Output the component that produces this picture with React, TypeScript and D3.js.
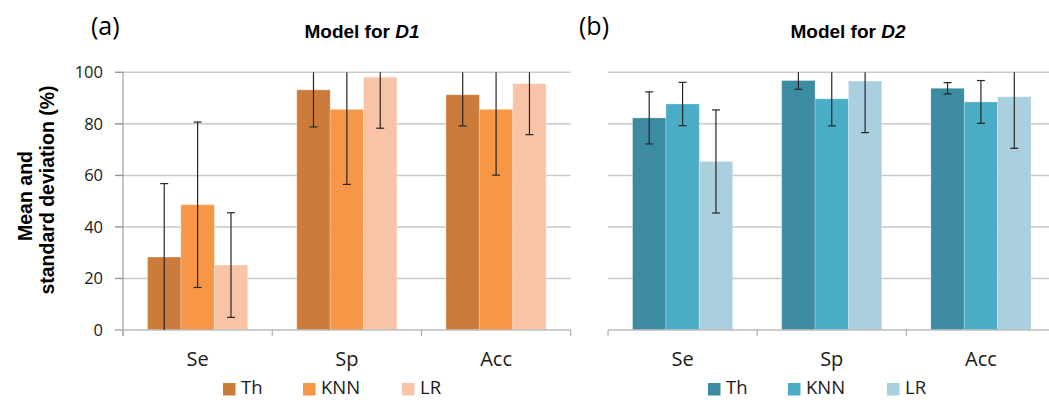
import React from "react";
import * as d3 from "d3";

const categories = ["Se", "Sp", "Acc"];
const seriesNames = ["Th", "KNN", "LR"];
const yTicks = [0, 20, 40, 60, 80, 100];

// Model for D1
const d1Th = [28.3, 93.2, 91.3];
const d1Knn = [48.6, 85.6, 85.6];
const d1Lr = [25.2, 98.1, 95.6];
const d1ThSd = [28.5, 14.4, 12.1];
const d1KnnSd = [32.1, 29.1, 25.5];
const d1LrSd = [20.3, 19.8, 19.8];

// Model for D2
const d2Th = [82.3, 96.8, 93.8];
const d2Knn = [87.7, 89.7, 88.5];
const d2Lr = [65.4, 96.6, 90.5];
const d2ThSd = [10.1, 3.4, 2.2];
const d2KnnSd = [8.4, 10.5, 8.3];
const d2LrSd = [20.0, 20.0, 20.0];

const orange = ["#CB7B3A", "#F69646", "#F9C3A8"];
const teal = ["#3D8BA1", "#4BACC6", "#AACFDE"];

const W = 1049;
const H = 400;
const yTop = 72.3;
const yBottom = 330;

const sansFont = "'Open Sans', sans-serif";
const boldFont = "'Liberation Sans', Arial, sans-serif";

type PanelProps = {
  x0: number;
  x1: number;
  means: number[][];
  sds: number[][];
  colors: string[];
  title: string;
  titleX: number;
  letter: string;
  letterX: number;
  showYAxis: boolean;
  gridStart: number;
  gridEnd: number;
};

function Panel(p: PanelProps) {
  const y = d3.scaleLinear().domain([0, 100]).range([yBottom, yTop]);
  const x = d3.scaleBand<string>().domain(categories).range([p.x0, p.x1]).padding(0);
  const bw = x.bandwidth();
  const groupW = bw * 0.671;
  const inner = d3
    .scaleBand<string>()
    .domain(seriesNames)
    .range([(bw - groupW) / 2, (bw + groupW) / 2])
    .padding(0);
  const legendOffsets = [100, 180, 279];
  return (
    <g>
      <text x={p.letterX} y={35} fontFamily={sansFont} fontSize={25} fill="#000">
        {p.letter}
      </text>
      <text x={p.titleX} y={38} textAnchor="middle" fontFamily={boldFont} fontWeight="bold" fontSize={19} fill="#000">
        {"Model for "}
        <tspan fontStyle="italic">{p.title}</tspan>
      </text>
      {yTicks.map((t) =>
        t === 0 ? null : (
          <line key={"g" + t} x1={p.gridStart} x2={p.gridEnd} y1={y(t)} y2={y(t)} stroke="#C9C9C9" strokeWidth={1.5} />
        )
      )}
      {p.showYAxis &&
        yTicks.map((t) => (
          <text key={"yt" + t} x={103} y={y(t)} dy="0.35em" textAnchor="end" fontFamily={sansFont} fontSize={16.5} fill="#1a1a1a">
            {t}
          </text>
        ))}
      {p.showYAxis && <line x1={123} x2={123} y1={yTop} y2={yBottom + 6} stroke="#8E8E8E" strokeWidth={1} />}
      {p.showYAxis &&
        yTicks.map((t) => <line key={"ytk" + t} x1={115} x2={123} y1={y(t)} y2={y(t)} stroke="#8E8E8E" strokeWidth={1} />)}
      {/* bars */}
      {categories.map((c, ci) =>
        seriesNames.map((s, si) => {
          const v = p.means[si][ci];
          const bx = (x(c) as number) + (inner(s) as number);
          return (
            <rect
              key={"b" + c + s}
              x={bx}
              y={y(v)}
              width={inner.bandwidth()}
              height={y(0) - y(v)}
              fill={p.colors[si]}
              stroke="rgba(255,255,255,0.25)"
              strokeWidth={1}
            />
          );
        })
      )}
      {/* x axis */}
      <line x1={p.gridStart} x2={p.gridEnd} y1={yBottom} y2={yBottom} stroke="#BDBDBD" strokeWidth={1.5} />
      {[...categories.map((c) => x(c) as number), p.x1].map((tx, i) => (
        <line key={"xt" + i} x1={tx} x2={tx} y1={yBottom} y2={yBottom + 6} stroke="#A0A0A0" strokeWidth={1} />
      ))}
      {/* error bars */}
      {categories.map((c, ci) =>
        seriesNames.map((s, si) => {
          const v = p.means[si][ci];
          const sd = p.sds[si][ci];
          const cx = (x(c) as number) + (inner(s) as number) + inner.bandwidth() / 2;
          const hi = v + sd;
          const lo = v - sd;
          const hiC = Math.min(100, hi);
          const loC = Math.max(0, lo);
          return (
            <g key={"e" + c + s} stroke="#262626" strokeWidth={1.2}>
              <line x1={cx} x2={cx} y1={y(hiC)} y2={y(loC)} />
              {hi <= 100 && <line x1={cx - 4} x2={cx + 4} y1={y(hi)} y2={y(hi)} />}
              {lo >= 0 && <line x1={cx - 4} x2={cx + 4} y1={y(lo)} y2={y(lo)} />}
            </g>
          );
        })
      )}
      {categories.map((c) => (
        <text
          key={"xl" + c}
          x={(x(c) as number) + bw / 2}
          y={366}
          textAnchor="middle"
          fontFamily={sansFont}
          fontSize={20}
          fill="#1a1a1a"
        >
          {c}
        </text>
      ))}
      {seriesNames.map((s, si) => (
        <g key={"lg" + s}>
          <rect x={p.x0 + legendOffsets[si]} y={383} width={12.5} height={12.5} fill={p.colors[si]} />
          <text x={p.x0 + legendOffsets[si] + 18} y={394} fontFamily={sansFont} fontSize={18.5} fill="#1a1a1a">
            {s}
          </text>
        </g>
      ))}
    </g>
  );
}

export default function App() {
  return (
    <svg
      width={W}
      height={H}
      viewBox={`0 0 ${W} ${H}`}
      style={{ position: "absolute", left: 0, top: 0, background: "#fff" }}
    >
      <rect x={0} y={0} width={W} height={H} fill="#fff" />
      <Panel
        x0={123}
        x1={570.7}
        means={[d1Th, d1Knn, d1Lr]}
        sds={[d1ThSd, d1KnnSd, d1LrSd]}
        colors={orange}
        title="D1"
        titleX={362}
        letter="(a)"
        letterX={91}
        showYAxis={true}
        gridStart={115}
        gridEnd={570.7}
      />
      <Panel
        x0={608}
        x1={1055.5}
        means={[d2Th, d2Knn, d2Lr]}
        sds={[d2ThSd, d2KnnSd, d2LrSd]}
        colors={teal}
        title="D2"
        titleX={848}
        letter="(b)"
        letterX={579}
        showYAxis={false}
        gridStart={608}
        gridEnd={1055.5}
      />
      <g fontFamily={boldFont} fontWeight="bold" fontSize={19.5} fill="#000">
        <text transform="translate(32,196) rotate(-90)" textAnchor="middle">
          Mean and
        </text>
        <text transform="translate(54,190) rotate(-90)" textAnchor="middle">
          standard deviation (%)
        </text>
      </g>
    </svg>
  );
}
